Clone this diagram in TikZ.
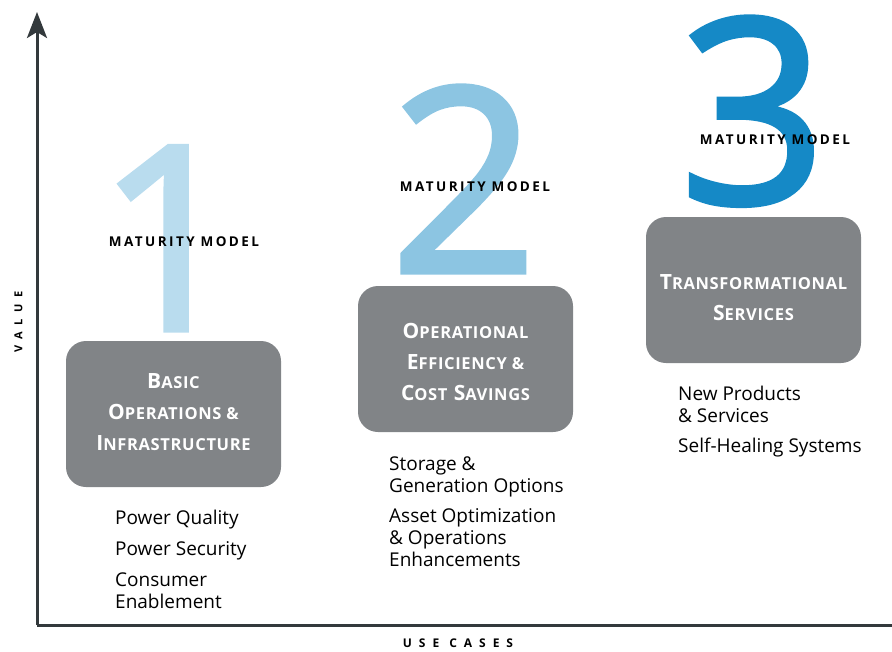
\documentclass[tikz,border=0pt]{standalone}
\usepackage{fontspec}
\setmainfont{Open Sans}
\newfontfamily\numfont[FakeBold=2]{Open Sans}
\newfontfamily\titlefont[LetterSpace=4]{Open Sans}
\newfontfamily\tagfont[LetterSpace=18]{Open Sans}
\newfontfamily\axisfont[LetterSpace=58]{Open Sans}
\usetikzlibrary{arrows.meta,positioning}

\definecolor{axisgray}{HTML}{33393C}
\definecolor{boxgray}{HTML}{818487}
\definecolor{blueone}{HTML}{B9DCEE}
\definecolor{bluetwo}{HTML}{8CC5E2}
\definecolor{bluethree}{HTML}{1589C6}

% fake small caps: first letter large, rest smaller
\newcommand\capword[2]{{\fontsize{21}{31}\selectfont #1}{\fontsize{16.5}{31}\selectfont #2}}

\tikzset{
  bignum/.style={anchor=base, inner sep=0pt, font=\numfont\fontsize{257}{257}\selectfont},
  maturity/.style={inner sep=0pt, font=\tagfont\bfseries\fontsize{13.5}{13.5}\selectfont},
  stagebox/.style={rectangle, rounded corners=20pt, fill=boxgray, minimum width=215pt, minimum height=146pt, inner sep=0pt},
  stagetitle/.style={align=center, text=white, inner sep=0pt, font=\titlefont\bfseries\fontsize{21}{31}\selectfont},
  usecase/.style={align=left, anchor=north west, inner sep=0pt, font=\fontsize{19}{22}\selectfont},
  axislabel/.style={inner sep=0pt, font=\axisfont\bfseries\fontsize{11}{11}\selectfont},
  axisline/.style={draw=axisgray, line width=3pt}
}

\begin{document}
\begin{tikzpicture}[x=1pt, y=-1pt]
\useasboundingbox (0,0) rectangle (892,651);

% big numbers behind the labels
\node[bignum, text=blueone]   (n1) at (170,330) {1};
\node[bignum, text=bluetwo]   (n2) at (464,272) {2};
\node[bignum, text=bluethree] (n3) at (753,203) {3};

\node[maturity] (m1) at (184,242) {MATURITY MODEL};
\node[maturity] (m2) at (475,187) {MATURITY MODEL};
\node[maturity] (m3) at (775,140) {MATURITY MODEL};

% stages
\node[stagebox] (b1) at (173.5,414) {};
\node[stagebox] (b2) at (465.5,359) {};
\node[stagebox] (b3) at (753.5,290) {};

\node[stagetitle] (t1) at ([yshift=2pt]b1.center) {\capword{B}{ASIC}\\ \capword{O}{PERATIONS \&}\\ \capword{I}{NFRASTRUCTURE}};
\node[stagetitle] (t2) at ([yshift=-3pt]b2.center) {\capword{O}{PERATIONAL}\\ \capword{E}{FFICIENCY \&}\\ \capword{C}{OST} \capword{S}{AVINGS}};
\node[stagetitle] (t3) at ([yshift=-8pt]b3.center) {\capword{T}{RANSFORMATIONAL}\\ \capword{S}{ERVICES}};

% use cases
\node[usecase] (u1) at (115,510) {Power Quality\\[9pt] Power Security\\[9pt] Consumer\\ Enablement};
\node[usecase] (u2) at (389,457) {Storage \&\\ Generation Options\\[8pt] Asset Optimization\\ \& Operations\\ Enhancements};
\node[usecase] (u3) at (678,386) {New Products\\ \& Services\\[8pt] Self-Healing Systems};

% axes
\coordinate (origin) at (37,625);
\coordinate (ytop) at (37,12);
\coordinate (xend) at (892,625);
\draw[axisline, -{Stealth[length=26pt, width=20pt, inset=6pt]}] (origin) -- (ytop);
\draw[axisline] (origin) -- (xend);

\node[axislabel, rotate=90] (vlabel) at (18.5,322) {VALUE};
\node[axislabel, font=\axisfont\bfseries\fontsize{12}{12}\selectfont] (ulabel) at (458,643) {USE CASES};
\end{tikzpicture}
\end{document}
